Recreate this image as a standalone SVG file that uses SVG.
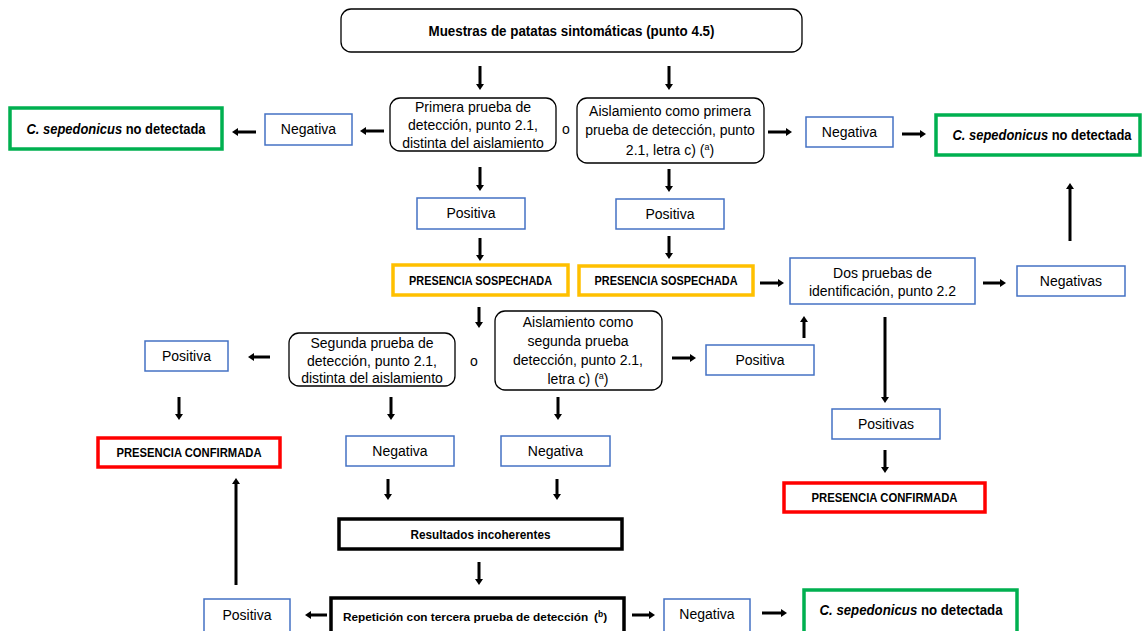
<svg xmlns="http://www.w3.org/2000/svg" width="1142" height="631" viewBox="0 0 1142 631">
<defs>
<style>
.rb{fill:#fff;stroke:#000;stroke-width:1.3}
.bl{fill:#fff;stroke:#4472C4;stroke-width:1.5}
.gr{fill:#fff;stroke:#00B050;stroke-width:3.5}
.ye{fill:#fff;stroke:#FFC000;stroke-width:3.5}
.rd{fill:#fff;stroke:#FF0000;stroke-width:3.5}
.bk{fill:#fff;stroke:#000;stroke-width:3.5}
text{font-family:"Liberation Sans",Arial,sans-serif;font-size:14px;fill:#000;text-anchor:middle}
text.st{text-anchor:start}
.b{font-weight:bold}
text.caps{font-weight:bold;font-size:12.5px}
text.mid{font-weight:bold;font-size:12.5px}
text.rep{font-weight:bold;font-size:11.8px}
.no{font-weight:bold}
.arr{fill:none;stroke:#000;stroke-width:3;marker-end:url(#ah)}
</style>
<marker id="ah" viewBox="0 0 6 8" refX="1" refY="4" markerWidth="6" markerHeight="8" markerUnits="userSpaceOnUse" orient="auto">
<path d="M0,0 L6,4 L0,8 z" fill="#000"/>
</marker>
</defs>
<rect width="1142" height="631" fill="#fff"/>

<g id="n_start"><rect class="rb" x="341" y="9" width="461" height="43" rx="10"/><text class="b" x="571.5" y="35.5" textLength="286" lengthAdjust="spacingAndGlyphs">Muestras de patatas sintomáticas (punto 4.5)</text></g>

<g id="n_prim1"><rect class="rb" x="390" y="98" width="166" height="53" rx="10"/><text x="473" y="112">Primera prueba de</text><text x="473" y="130">detección, punto 2.1,</text><text x="473" y="148">distinta del aislamiento</text></g>
<g id="o1"><text x="566" y="134">o</text></g>
<g id="n_ais1"><rect class="rb" x="577" y="98" width="187" height="65" rx="10"/><text x="670" y="116">Aislamiento como primera</text><text x="670" y="135">prueba de detección, punto</text><text x="670" y="155">2.1, letra c) (<tspan font-size="9" dy="-5">a</tspan><tspan dy="5">)</tspan></text></g>

<g id="n_neg1L"><rect class="bl" x="265" y="114" width="87" height="31"/><text x="308.5" y="134">Negativa</text></g>
<g id="n_noL"><rect class="gr" x="10" y="108" width="212" height="41"/><text class="no" x="116" y="134" textLength="179" lengthAdjust="spacingAndGlyphs"><tspan font-style="italic">C. sepedonicus</tspan> no detectada</text></g>
<g id="n_neg1R"><rect class="bl" x="806" y="117" width="87" height="30"/><text x="849.5" y="137">Negativa</text></g>
<g id="n_noR"><rect class="gr" x="936" y="115" width="204" height="40"/><text class="no" x="1042" y="140" textLength="179" lengthAdjust="spacingAndGlyphs"><tspan font-style="italic">C. sepedonicus</tspan> no detectada</text></g>

<g id="n_pos1L"><rect class="bl" x="417" y="198" width="108" height="31"/><text x="471" y="218">Positiva</text></g>
<g id="n_pos1R"><rect class="bl" x="616" y="199" width="108" height="30"/><text x="670" y="219">Positiva</text></g>

<g id="n_sosL"><rect class="ye" x="393" y="265" width="175" height="30"/><text class="caps" x="480.5" y="284.5" textLength="143" lengthAdjust="spacingAndGlyphs">PRESENCIA SOSPECHADA</text></g>
<g id="n_sosR"><rect class="ye" x="579" y="266" width="174" height="29"/><text class="caps" x="666" y="285" textLength="143" lengthAdjust="spacingAndGlyphs">PRESENCIA SOSPECHADA</text></g>

<g id="n_dos"><rect class="bl" x="790" y="258" width="185" height="46"/><text x="882.5" y="278">Dos pruebas de</text><text x="882.5" y="296">identificación, punto 2.2</text></g>
<g id="n_negs"><rect class="bl" x="1017" y="266" width="108" height="30"/><text x="1071" y="286">Negativas</text></g>

<g id="n_seg"><rect class="rb" x="289" y="333" width="166" height="53" rx="10"/><text x="372" y="348">Segunda prueba de</text><text x="372" y="366">detección, punto 2.1,</text><text x="372" y="383">distinta del aislamiento</text></g>
<g id="o2"><text x="474" y="366">o</text></g>
<g id="n_ais2"><rect class="rb" x="495" y="311" width="167" height="79" rx="10"/><text x="578" y="327">Aislamiento como</text><text x="578" y="346">segunda prueba</text><text x="578" y="365">detección, punto 2.1,</text><text x="578" y="384">letra c) (<tspan font-size="9" dy="-5">a</tspan><tspan dy="5">)</tspan></text></g>

<g id="n_pos2L"><rect class="bl" x="145" y="341" width="83" height="30"/><text x="186.5" y="361">Positiva</text></g>
<g id="n_pos2R"><rect class="bl" x="706" y="345" width="108" height="30"/><text x="760" y="365">Positiva</text></g>

<g id="n_confL"><rect class="rd" x="98" y="438" width="182" height="29"/><text class="caps" x="189" y="457" textLength="145" lengthAdjust="spacingAndGlyphs">PRESENCIA CONFIRMADA</text></g>
<g id="n_negA"><rect class="bl" x="346" y="436" width="108" height="30"/><text x="400" y="456">Negativa</text></g>
<g id="n_negB"><rect class="bl" x="501" y="436" width="109" height="30"/><text x="555.5" y="456">Negativa</text></g>

<g id="n_poss"><rect class="bl" x="832" y="409" width="108" height="30"/><text x="886" y="429">Positivas</text></g>
<g id="n_confR"><rect class="rd" x="784" y="483" width="201" height="29"/><text class="caps" x="884.5" y="502" textLength="146" lengthAdjust="spacingAndGlyphs">PRESENCIA CONFIRMADA</text></g>

<g id="n_incoh"><rect class="bk" x="339" y="519" width="283" height="30"/><text class="mid" x="480.5" y="538.5" textLength="140" lengthAdjust="spacingAndGlyphs">Resultados incoherentes</text></g>

<g id="n_rep"><rect class="bk" x="331" y="598" width="293" height="45"/><text class="rep st" x="343" y="620.5">Repetición con tercera prueba de detección</text><text class="rep st" x="594" y="620.5">(<tspan font-size="8.5" dy="-4">b</tspan><tspan dy="4">)</tspan></text></g>
<g id="n_pos3"><rect class="bl" x="204" y="599" width="86" height="40"/><text x="247" y="620">Positiva</text></g>
<g id="n_neg3"><rect class="bl" x="664" y="599" width="86" height="40"/><text x="707" y="619">Negativa</text></g>
<g id="n_no3"><rect class="gr" x="804" y="590" width="213" height="50"/><text class="no" x="911" y="615" textLength="183" lengthAdjust="spacingAndGlyphs"><tspan font-style="italic">C. sepedonicus</tspan> no detectada</text></g>

<g id="connectors">
<path class="arr" d="M480,66 V85"/>
<path class="arr" d="M669,66 V85"/>
<path class="arr" d="M384,131 H365"/>
<path class="arr" d="M256,132 H237"/>
<path class="arr" d="M768,132 H787"/>
<path class="arr" d="M902,134 H921"/>
<path class="arr" d="M480,167 V186"/>
<path class="arr" d="M669,169 V187"/>
<path class="arr" d="M480,238 V256"/>
<path class="arr" d="M669,236 V254"/>
<path class="arr" d="M760,283 H779"/>
<path class="arr" d="M983,283 H1001"/>
<path class="arr" d="M1070,241 V188"/>
<path class="arr" d="M479,307 V323"/>
<path class="arr" d="M270,357 H253"/>
<path class="arr" d="M672,358 H691"/>
<path class="arr" d="M804,338 V321"/>
<path class="arr" d="M885,317 V398"/>
<path class="arr" d="M885,450 V468"/>
<path class="arr" d="M179,397 V415"/>
<path class="arr" d="M391,397 V415"/>
<path class="arr" d="M558,397 V415"/>
<path class="arr" d="M388,479 V495"/>
<path class="arr" d="M557,479 V495"/>
<path class="arr" d="M479,562 V580"/>
<path class="arr" d="M236,585 V483"/>
<path class="arr" d="M327,615 H310"/>
<path class="arr" d="M632,615 H650"/>
<path class="arr" d="M762,613 H782"/>
</g>
</svg>
